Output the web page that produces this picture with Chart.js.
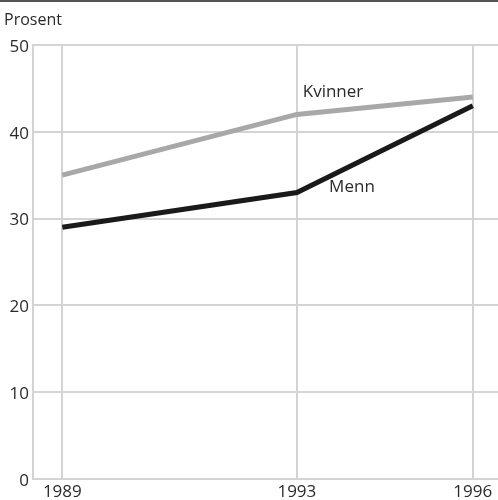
<!DOCTYPE html>
<html>
<head>
<meta charset="utf-8">
<script src="https://cdn.jsdelivr.net/npm/chart.js@4/dist/chart.umd.min.js"></script>
<style>
  body { margin: 0; background: #fff; }
  #wrap { width: 498px; height: 500px; position: relative; }
</style>
</head>
<body>
<div id="wrap"><canvas id="chart"></canvas></div>
<script>
const years = [1989, 1993, 1996];
const kvinner = [35, 42, 44];
const menn = [29, 33, 43];
const yTicks = [0, 10, 20, 30, 40, 50];

// series labels placed in data coordinates
const seriesLabels = [
    { text: 'Kvinner', x: 1993.1, y: 44.6 },
    { text: 'Menn', x: 1993.55, y: 33.6 }
];

const FONT = "'Open Sans', 'Noto Sans', sans-serif";
const GRID = '#d4d4d4';
const TEXT = '#2a2a2a';

const decorations = {
    id: 'decorations',
    afterDraw(chart) {
        const ctx = chart.ctx;
        const xs = chart.scales.x, ys = chart.scales.y;
        ctx.save();
        // top rule
        ctx.strokeStyle = '#555';
        ctx.lineWidth = 2;
        ctx.beginPath();
        ctx.moveTo(0, 1);
        ctx.lineTo(chart.width, 1);
        ctx.stroke();
        // unit label
        ctx.fillStyle = TEXT;
        ctx.font = '16px ' + FONT;
        ctx.textBaseline = 'middle';
        ctx.textAlign = 'left';
        ctx.fillText('Prosent', 4, 20);
        // series labels
        ctx.font = '17px ' + FONT;
        seriesLabels.forEach(l => {
            ctx.fillText(l.text, xs.getPixelForValue(l.x), ys.getPixelForValue(l.y));
        });
        ctx.restore();
    }
};

new Chart(document.getElementById('chart'), {
    type: 'line',
    data: {
        datasets: [
            {
                label: 'Kvinner',
                data: years.map((y, i) => ({ x: y, y: kvinner[i] })),
                borderColor: '#a8a8a8',
                borderWidth: 5,
                pointRadius: 0,
                tension: 0
            },
            {
                label: 'Menn',
                data: years.map((y, i) => ({ x: y, y: menn[i] })),
                borderColor: '#1a1a1a',
                borderWidth: 5,
                pointRadius: 0,
                tension: 0
            }
        ]
    },
    options: {
        responsive: true,
        maintainAspectRatio: false,
        animation: false,
        layout: { padding: { top: 45, right: 0, left: 0, bottom: 0 } },
        plugins: {
            legend: { display: false },
            tooltip: { enabled: false }
        },
        scales: {
            x: {
                type: 'linear',
                min: 1988.5,
                max: 1996.43,
                afterBuildTicks: (scale) => { scale.ticks = years.map(v => ({ value: v })); },
                afterFit: (scale) => { scale.height = 21; },
                grid: { color: GRID, lineWidth: 2, drawTicks: false },
                border: { color: GRID, width: 2 },
                ticks: {
                    color: TEXT,
                    font: { family: FONT, size: 17 },
                    padding: 3,
                    maxRotation: 0,
                    autoSkip: false,
                    callback: (v) => String(v)
                }
            },
            y: {
                min: 0,
                max: 50,
                afterBuildTicks: (scale) => { scale.ticks = yTicks.map(v => ({ value: v })); },
                afterFit: (scale) => { scale.width = 33; },
                grid: { color: GRID, lineWidth: 2, drawTicks: false },
                border: { color: GRID, width: 2 },
                ticks: {
                    color: TEXT,
                    font: { family: FONT, size: 17 },
                    padding: 4,
                    labelOffset: 2
                }
            }
        }
    },
    plugins: [decorations]
});
</script>
</body>
</html>
